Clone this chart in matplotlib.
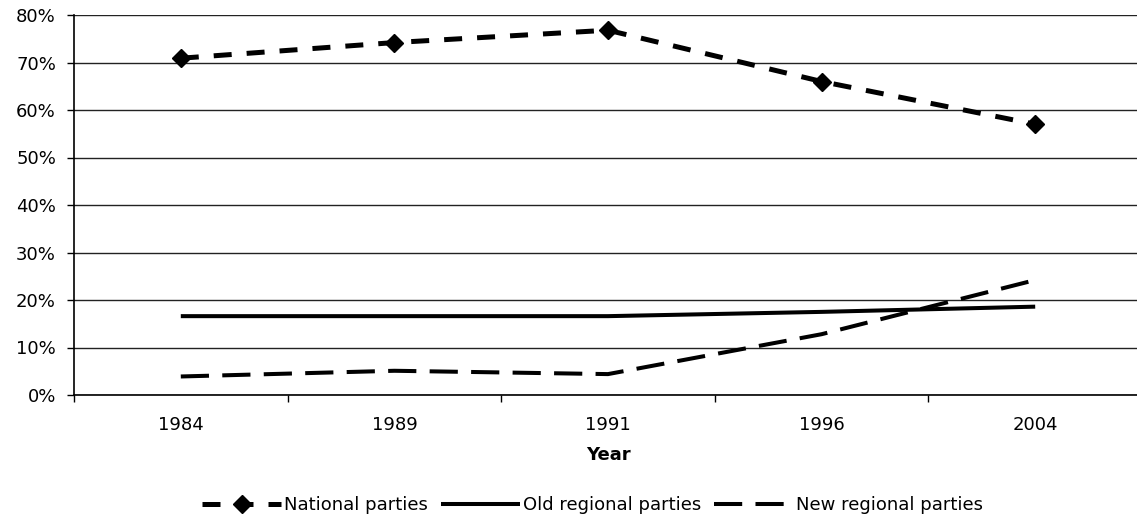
import matplotlib.pyplot as plt
from matplotlib.ticker import FixedLocator, PercentFormatter

years = ["1984", "1989", "1991", "1996", "2004"]
national = [70.9, 74.2, 76.8, 66.0, 57.0]
old_regional = [16.6, 16.6, 16.6, 17.5, 18.6]
new_regional = [3.9, 5.1, 4.4, 12.8, 24.2]

plt.rcParams['font.family'] = ['DejaVu Sans']

fig = plt.figure(figsize=(11.37, 5.16), dpi=100)
# plot area runs slightly past the right edge, like the original
ax = fig.add_axes([74 / 1137, 1 - 395 / 516, 1068 / 1137, 380 / 516])

x = range(len(years))
ax.plot(x, national, color="black", lw=3.6, dashes=(3.6, 3.0),
        marker="D", markersize=9.5, label="National parties", zorder=4)
ax.plot(x, old_regional, color="black", lw=2.9, solid_capstyle="butt",
        label="Old regional parties", zorder=3)
ax.plot(x, new_regional, color="black", lw=2.9, dashes=(7, 3.3),
        label="New regional parties", zorder=3)

ax.set_xlim(-0.5, 4.5)
ax.set_ylim(0, 80)
ax.set_xticks(list(x))
ax.set_xticklabels(years, fontsize=13)
ax.xaxis.set_minor_locator(FixedLocator([-0.5, 0.5, 1.5, 2.5, 3.5, 4.5]))
ax.tick_params(axis="x", which="major", length=0, pad=15)
ax.tick_params(axis="x", which="minor", length=5, width=1, direction="out")
ax.set_yticks(range(0, 81, 10))
ax.yaxis.set_major_formatter(PercentFormatter(decimals=0))
ax.tick_params(axis="y", labelsize=13, length=5, width=1, direction="out", pad=8)

ax.grid(axis="y", color="#222222", lw=1)
ax.set_axisbelow(True)
for s in ["top", "right"]:
    ax.spines[s].set_visible(False)
ax.spines["left"].set_linewidth(1.2)
ax.spines["bottom"].set_linewidth(1.2)

ax.set_xlabel("Year", fontsize=13, fontweight="bold", labelpad=9)

fig.legend(loc="center left", bbox_to_anchor=(202 / 1137, 1 - 505 / 516),
           ncol=3, frameon=False, fontsize=13, handlelength=4.4,
           handletextpad=0.15, columnspacing=0.7, borderaxespad=0, borderpad=0)

fig.savefig("out.png", dpi=100)
